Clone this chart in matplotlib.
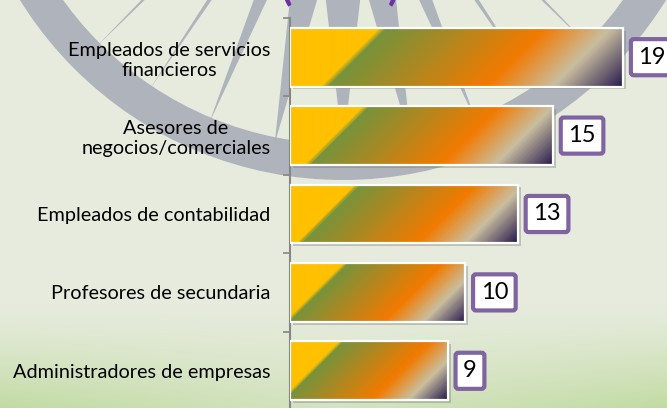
import matplotlib
matplotlib.use('Agg')
import matplotlib.pyplot as plt
import matplotlib.patheffects as pe
from matplotlib.colors import LinearSegmentedColormap
from matplotlib.patches import Wedge, Polygon
import numpy as np

# data
categories = ['Empleados de servicios\nfinancieros',
              'Asesores de\nnegocios/comerciales',
              'Empleados de contabilidad',
              'Profesores de secundaria',
              'Administradores de empresas']
values = [19, 15, 13, 10, 9]

W, H = 667, 408
plt.rcParams['font.family'] = ['Lato', 'DejaVu Sans']

fig = plt.figure(figsize=(W / 100, H / 100), dpi=100)
fig.patch.set_facecolor('#E5EADB')

# background: pale green, greener toward the bottom
bg = fig.add_axes([0, 0, 1, 1], zorder=0)
bg.set_xlim(0, W)
bg.set_ylim(H, 0)
bg.axis('off')
yy = np.linspace(0, 1, H)[:, None]
xx = np.linspace(0, 1, W)[None, :]
top = np.array([0.905, 0.922, 0.868])
bot = np.array([0.76, 0.86, 0.64])
k = np.clip((yy - 0.74) / 0.26, 0, 1) ** 1.3 * (0.5 + 0.5 * np.abs(xx - 0.5) * 2)
bg.imshow(top * (1 - k[..., None]) + bot * k[..., None], extent=(0, W, H, 0), aspect='auto')

# compass watermark (centre above the picture)
cx, cy = 343, -200
ring_col = '#A5AAB7'
bg.add_patch(Wedge((cx, cy), 380, 0, 360, width=36, fc=ring_col, ec='none', alpha=0.85))
for i in range(32):
    a = i * 11.25
    off = abs(((a - 90) + 180) % 360 - 180)
    if off < 1:
        hw = 40
    elif off < 12:
        hw = 32
    elif off < 23:
        hw = 16
    else:
        hw = 6
    ang = np.deg2rad(a)
    d = np.array([np.cos(ang), np.sin(ang)])
    p = np.array([-d[1], d[0]])
    c = np.array([cx, cy])
    bg.add_patch(Polygon([c + p * hw, c + d * 350, c - p * hw], closed=True,
                         fc=ring_col, ec='none', alpha=0.85))

# partial title at the top edge
fig.text(340 / W, (H + 1) / H, '(miles)', color='#7030A0', fontsize=30,
         fontweight='bold', ha='center', va='baseline')

# main chart
ax = fig.add_axes([290 / W, -2 / H, 377 / W, 392 / H], zorder=2)
ax.patch.set_alpha(0)
y = np.arange(len(categories))
ax.set_xlim(0, 21.5)
ax.set_ylim(len(categories) - 0.5, -0.5)

grad = LinearSegmentedColormap.from_list('bar', [
    (0.0, '#FFC000'), (0.225, '#FFC000'), (0.245, '#77933C'),
    (0.65, '#F27A00'), (0.82, '#C9BE9F'), (1.0, '#261A4E')])

bars = ax.barh(y, values, height=0.75, color='#8a8a8a', zorder=1,
               path_effects=[pe.SimplePatchShadow(offset=(2, -2), shadow_rgbFace='#6f7370', alpha=0.35),
                             pe.Normal()])
fig.canvas.draw()
for rect in bars:
    x0, y0 = rect.get_x(), rect.get_y()
    x1, y1 = x0 + rect.get_width(), y0 + rect.get_height()
    (px0, py0), (px1, py1) = ax.transData.transform([(x0, y0), (x1, y1)])
    w = max(int(round(abs(px1 - px0))), 2)
    h = max(int(round(abs(py1 - py0))), 2)
    jj, ii = np.meshgrid(np.arange(w), np.arange(h))
    t = (jj + ii) / (w + h - 2)
    ax.imshow(grad(t), extent=(x0, x1, y1, y0), aspect='auto', zorder=2, interpolation='bilinear')
ax.barh(y, values, height=0.75, fc='none', ec='white', lw=1.6, zorder=3)
ax.set_xlim(0, 21.5)
ax.set_ylim(len(categories) - 0.5, -0.5)

for rect, v in zip(bars, values):
    ax.annotate(str(v), xy=(rect.get_width(), rect.get_y() + rect.get_height() / 2),
                xytext=(11, 0), textcoords='offset points', ha='left', va='center',
                fontsize=17, color='black', zorder=5, annotation_clip=False,
                bbox=dict(boxstyle='round,pad=0.32,rounding_size=0.12', fc='white',
                          ec='#8064A2', lw=3))

ax.set_yticks(y)
ax.set_yticklabels(categories, fontsize=14.3, multialignment='center')
ax.set_yticks(np.arange(-0.5, len(categories), 1), minor=True)
ax.tick_params(axis='y', which='major', length=0, pad=14)
ax.tick_params(axis='y', which='minor', length=5, width=1.2, color='#868686')
ax.xaxis.set_visible(False)
for s in ['top', 'right', 'bottom']:
    ax.spines[s].set_visible(False)
ax.spines['left'].set_color('#868686')
ax.spines['left'].set_linewidth(1.5)

fig.savefig('out.png', dpi=100, facecolor=fig.get_facecolor())
